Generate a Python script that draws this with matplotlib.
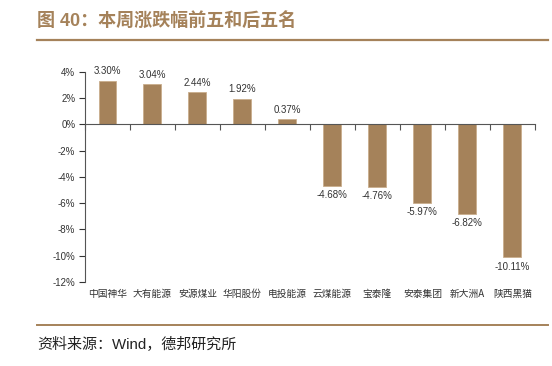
import matplotlib
matplotlib.use("Agg")
import matplotlib.pyplot as plt
from matplotlib.ticker import FuncFormatter
import numpy as np

plt.rcParams['font.family'] = ['Liberation Sans', 'Noto Sans CJK SC', 'DejaVu Sans']

categories = ['中国神华', '大有能源', '安源煤业', '华阳股份', '电投能源',
              '云煤能源', '宝泰隆', '安泰集团', '新大洲A', '陕西黑猫']
values = [3.30, 3.04, 2.44, 1.92, 0.37, -4.68, -4.76, -5.97, -6.82, -10.11]
yticks = [4, 2, 0, -2, -4, -6, -8, -10, -12]

title = '图 40：本周涨跌幅前五和后五名'
source = '资料来源：Wind，德邦研究所'

brown = '#A5825A'
text_col = '#333333'

fig = plt.figure(figsize=(5.52, 3.66), dpi=100)
ax = fig.add_axes([0.154, 0.230, 0.815, 0.574])

x = np.arange(len(categories))
ax.bar(x, values, width=0.4, color=brown, edgecolor='#C9AD8C', linewidth=0.6, zorder=2)

for xi, v in zip(x, values):
    if v >= 0:
        ax.text(xi, v + 0.35, f'{v:.2f}%', ha='center', va='bottom', fontsize=7, color=text_col)
    else:
        ax.text(xi, v - 0.35, f'{v:.2f}%', ha='center', va='top', fontsize=7, color=text_col)

ax.set_xlim(-0.5, len(categories) - 0.5)
ax.set_ylim(min(yticks), max(yticks))
ax.set_yticks(yticks)
ax.yaxis.set_major_formatter(FuncFormatter(lambda v, p: f'{int(v)}%'))
ax.tick_params(axis='y', labelsize=7, colors=text_col, length=4, width=0.8, direction='out', pad=3)
for lab in ax.get_yticklabels():
    lab.set_color(text_col)

for s in ['top', 'right']:
    ax.spines[s].set_visible(False)
ax.spines['left'].set_color('#555555')
ax.spines['left'].set_linewidth(0.8)
ax.spines['bottom'].set_position(('data', 0))
ax.spines['bottom'].set_color('#555555')
ax.spines['bottom'].set_linewidth(0.8)
ax.set_xticks(np.arange(len(categories) + 1) - 0.5)
ax.set_xticklabels([])
ax.tick_params(axis='x', length=4, width=0.8, direction='out', colors='#555555')

sec = ax.secondary_xaxis('bottom')
sec.set_xticks(x)
sec.set_xticklabels(categories, fontsize=7, color=text_col,
                    family=['Noto Sans CJK SC', 'Liberation Sans'])
sec.tick_params(length=0, pad=5)
sec.spines['bottom'].set_visible(False)

# Title
fig.text(37 / 552, 1 - 21 / 366, title, fontsize=13, fontweight='bold', color=brown,
         ha='left', va='center', family=['Liberation Sans', 'Noto Sans CJK SC', 'DejaVu Sans'])
fig.add_artist(plt.Line2D([37 / 552, 548 / 552], [1 - 40 / 366, 1 - 40 / 366],
                          color=brown, linewidth=1.6))
fig.add_artist(plt.Line2D([37 / 552, 548 / 552], [1 - 325 / 366, 1 - 325 / 366],
                          color=brown, linewidth=1.4))
fig.text(37 / 552, 1 - 345 / 366, source, fontsize=10.8, color='#222222',
         ha='left', va='center', family=['Liberation Sans', 'Noto Sans CJK SC'])

fig.savefig('out.png', dpi=100)
